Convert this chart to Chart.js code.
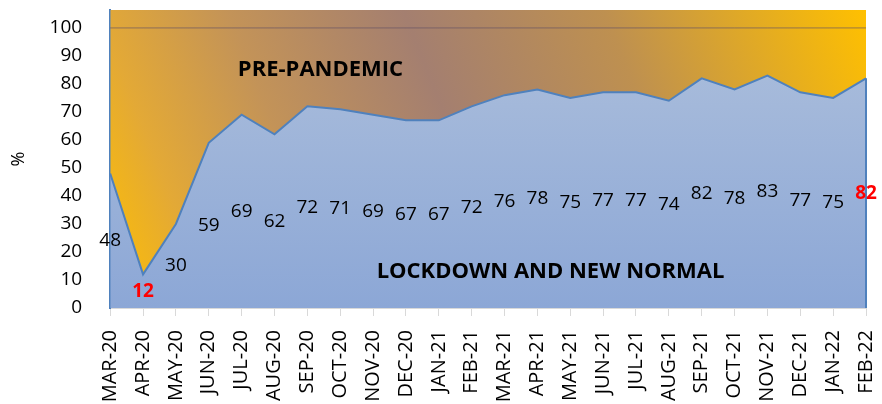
<!DOCTYPE html>
<html>
<head>
<meta charset="utf-8">
<script src="https://cdn.jsdelivr.net/npm/chart.js@4"></script>
<style>
  html, body { margin: 0; padding: 0; background: #fff; }
  #wrap { width: 882px; height: 404px; }
</style>
</head>
<body>
<div id="wrap"><canvas id="chart" width="882" height="404"></canvas></div>
<script>
const months = ['MAR-20', 'APR-20', 'MAY-20', 'JUN-20', 'JUL-20', 'AUG-20', 'SEP-20', 'OCT-20',
  'NOV-20', 'DEC-20', 'JAN-21', 'FEB-21', 'MAR-21', 'APR-21', 'MAY-21', 'JUN-21', 'JUL-21',
  'AUG-21', 'SEP-21', 'OCT-21', 'NOV-21', 'DEC-21', 'JAN-22', 'FEB-22'];
const lockdown = [48, 12, 30, 59, 69, 62, 72, 71, 69, 67, 67, 72, 76, 78, 75, 77, 77, 74, 82, 78, 83, 77, 75, 82];
const prePandemic = months.map(() => 100);
const highlighted = [1, 23];
const yTicks = [0, 10, 20, 30, 40, 50, 60, 70, 80, 90, 100];

const FONT = "'Open Sans', sans-serif";

function topFill(context) {
  const { chart } = context;
  const a = chart.chartArea;
  if (!a) return '#e0a830';
  const g = chart.ctx.createLinearGradient(a.left, a.bottom, a.right, a.top);
  g.addColorStop(0, '#FFC000');
  g.addColorStop(0.12, '#E3A936');
  g.addColorStop(0.27, '#C39358');
  g.addColorStop(0.47, '#A47F70');
  g.addColorStop(0.7, '#BE9050');
  g.addColorStop(1, '#FFC000');
  return g;
}

function blueFill(context) {
  const { chart } = context;
  const a = chart.chartArea;
  if (!a) return '#9db3d9';
  const g = chart.ctx.createLinearGradient(0, a.top, 0, a.bottom);
  g.addColorStop(0, '#AEC0DC');
  g.addColorStop(1, '#8CA7D6');
  return g;
}

// data labels sit at the middle of the area, like Excel does
const labelsPlugin = {
  id: 'areaLabels',
  afterDatasetsDraw(chart) {
    const { ctx, scales: { x, y }, chartArea } = chart;
    ctx.save();
    // right edge of the area
    ctx.strokeStyle = '#4F81BD';
    ctx.lineWidth = 2;
    ctx.beginPath();
    ctx.moveTo(x.getPixelForValue(lockdown.length - 1), y.getPixelForValue(lockdown[lockdown.length - 1]));
    ctx.lineTo(x.getPixelForValue(lockdown.length - 1), chartArea.bottom);
    ctx.stroke();

    ctx.textAlign = 'center';
    ctx.textBaseline = 'middle';
    lockdown.forEach((v, i) => {
      const red = highlighted.includes(i);
      ctx.font = (red ? 'bold ' : '') + '19px ' + FONT;
      ctx.fillStyle = red ? '#FF0000' : '#000';
      ctx.fillText(v, x.getPixelForValue(i), y.getPixelForValue(v / 2));
    });

    ctx.font = 'bold 22px ' + FONT;
    ctx.fillStyle = '#000';
    ctx.fillText('PRE-PANDEMIC', x.getPixelForValue(6.4), y.getPixelForValue(85));
    ctx.fillText('LOCKDOWN AND NEW NORMAL', x.getPixelForValue(13.4), y.getPixelForValue(13));
    ctx.restore();
  }
};

new Chart(document.getElementById('chart'), {
  type: 'line',
  data: {
    labels: months,
    datasets: [
      {
        label: 'Pre-pandemic',
        data: lockdown,
        fill: 'end',
        backgroundColor: topFill,
        borderWidth: 0,
        pointRadius: 0,
        tension: 0,
        order: 3
      },
      {
        label: 'Lockdown',
        data: lockdown,
        fill: 'origin',
        backgroundColor: blueFill,
        borderColor: '#4F81BD',
        borderWidth: 2,
        pointRadius: 0,
        tension: 0,
        order: 2
      },
      {
        label: 'Baseline',
        data: prePandemic,
        fill: false,
        borderColor: 'rgba(100, 80, 100, 0.65)',
        borderWidth: 1,
        pointRadius: 0,
        order: 1
      }
    ]
  },
  options: {
    responsive: false,
    animation: false,
    layout: { padding: { top: 10, right: 16, bottom: 0, left: 0 } },
    plugins: {
      legend: { display: false },
      tooltip: { enabled: false }
    },
    scales: {
      x: {
        offset: false,
        afterFit(axis) {
          axis.height = 96;
          axis.paddingLeft = 0;
          axis.paddingRight = 0;
        },
        grid: { drawOnChartArea: false, drawTicks: true, tickLength: 8, color: '#d9d9d9' },
        border: { color: '#d9d9d9', width: 2 },
        ticks: {
          color: '#000',
          font: { family: FONT, size: 20 },
          minRotation: 90,
          maxRotation: 90,
          autoSkip: false,
          padding: 14
        }
      },
      y: {
        min: 0,
        max: 106.4,
        afterBuildTicks(axis) {
          axis.ticks = yTicks.map(v => ({ value: v }));
        },
        afterFit(axis) {
          axis.paddingTop = 0;
          axis.paddingBottom = 0;
        },
        grid: { display: false },
        border: { color: '#4F81BD', width: 2 },
        title: {
          display: true,
          text: '%',
          color: '#000',
          font: { family: FONT, size: 18 },
          padding: { top: 8, bottom: 0 }
        },
        ticks: {
          color: '#000',
          font: { family: FONT, size: 19 },
          padding: 20
        }
      }
    }
  },
  plugins: [labelsPlugin]
});
</script>
</body>
</html>
